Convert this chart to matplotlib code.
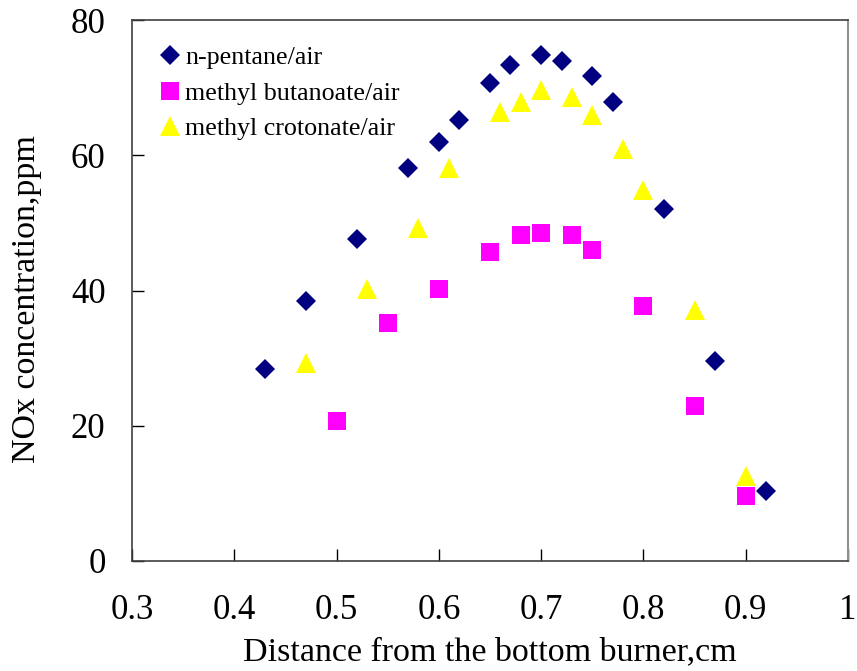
import matplotlib
matplotlib.use("Agg")
import matplotlib.pyplot as plt

# n-pentane/air
x_pentane = [0.43, 0.47, 0.52, 0.57, 0.60, 0.62, 0.65, 0.67, 0.70, 0.72, 0.75, 0.77, 0.82, 0.87, 0.92]
y_pentane = [28.4, 38.4, 47.6, 58.2, 61.9, 65.2, 70.7, 73.3, 74.8, 74.0, 71.7, 67.9, 52.1, 29.6, 10.3]

# methyl butanoate/air
x_butanoate = [0.50, 0.55, 0.60, 0.65, 0.68, 0.70, 0.73, 0.75, 0.80, 0.85, 0.90]
y_butanoate = [20.7, 35.2, 40.2, 45.7, 48.2, 48.5, 48.2, 46.0, 37.7, 22.9, 9.6]

# methyl crotonate/air
x_crotonate = [0.47, 0.53, 0.58, 0.61, 0.66, 0.68, 0.70, 0.73, 0.75, 0.78, 0.80, 0.85, 0.90]
y_crotonate = [29.3, 40.2, 49.2, 58.2, 66.4, 67.9, 69.6, 68.6, 65.9, 60.9, 54.8, 37.1, 12.5]

labels = ["n-pentane/air", "methyl butanoate/air", "methyl crotonate/air"]
xticks = [0.3, 0.4, 0.5, 0.6, 0.7, 0.8, 0.9, 1.0]
xticklabels = ["0.3", "0.4", "0.5", "0.6", "0.7", "0.8", "0.9", "1"]
yticks = [0, 20, 40, 60, 80]

plt.rcParams['font.family'] = ['Liberation Serif', 'DejaVu Serif']

fig = plt.figure(figsize=(8.57, 6.71), dpi=100)
ax = fig.add_axes([0.154, 0.164, 0.9895 - 0.154, 0.970 - 0.164])

ax.plot(x_pentane, y_pentane, linestyle='none', marker='D', markersize=10.2,
        color='#000080', markeredgewidth=0, label=labels[0])
ax.plot(x_butanoate, y_butanoate, linestyle='none', marker='s', markersize=13,
        color='#FF00FF', markeredgewidth=0, label=labels[1])
ax.plot(x_crotonate, y_crotonate, linestyle='none', marker='^', markersize=14.4,
        color='#FFFF00', markeredgewidth=0, label=labels[2])

ax.set_xlim(0.3, 1.0)
ax.set_ylim(0, 80)
ax.set_xticks(xticks)
ax.set_xticklabels(xticklabels)
ax.set_yticks(yticks)
ax.tick_params(axis='both', direction='in', length=8.5, width=1, labelsize=25, colors='#000000')
ax.tick_params(axis='x', pad=24)
ax.tick_params(axis='y', pad=19)

for side in ['left', 'bottom', 'top']:
    ax.spines[side].set_color('#404040')
    ax.spines[side].set_linewidth(1.2)
ax.spines['right'].set_color('#909090')
ax.spines['right'].set_linewidth(1.5)

ax.set_xlabel("Distance from the bottom burner,cm", fontsize=24.5, labelpad=7)
ax.set_ylabel("NOx concentration,ppm", fontsize=24.5)
ax.yaxis.set_label_coords(-0.126, 0.485)

ax.legend(loc='upper left', frameon=False, fontsize=18.7, handletextpad=0.05,
          handlelength=1.1, labelspacing=0.47, borderaxespad=0.5,
          bbox_to_anchor=(0.0, 0.995))

fig.savefig("out.png", dpi=100)
